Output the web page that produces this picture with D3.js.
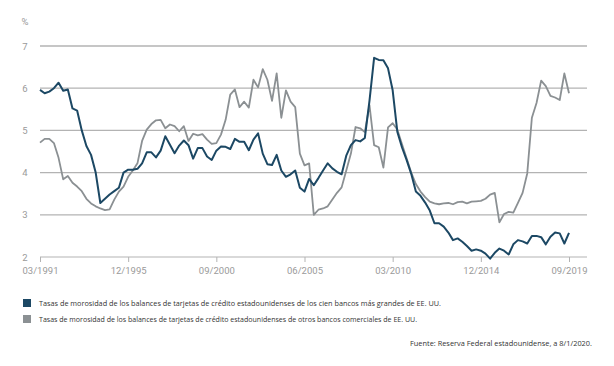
<!DOCTYPE html>
<html>
<head>
<meta charset="utf-8">
<script src="https://d3js.org/d3.v7.min.js"></script>
<style>
  body { margin: 0; background: white; }
  .tick-label { font-family: Roboto, sans-serif; font-size: 9.5px; fill: #9a9a9a; }
  .legend-text { font-family: "Open Sans", sans-serif; font-size: 7.3px; fill: #333; }
</style>
</head>
<body>
<div id="chart"></div>
<script>
// quarterly values, 03/1991 .. 09/2019
var top100 = [5.96, 5.88, 5.92, 6.0, 6.13, 5.94, 5.97, 5.52, 5.47, 5.0,
  4.63, 4.42, 4.0, 3.28, 3.38, 3.48, 3.56, 3.64, 4.0, 4.07,
  4.07, 4.09, 4.22, 4.48, 4.48, 4.36, 4.52, 4.86, 4.66, 4.46,
  4.64, 4.76, 4.65, 4.33, 4.58, 4.58, 4.38, 4.3, 4.52, 4.62,
  4.61, 4.56, 4.8, 4.73, 4.73, 4.53, 4.78, 4.93, 4.45, 4.2,
  4.18, 4.42, 4.05, 3.9, 3.96, 4.05, 3.64, 3.55, 3.85, 3.7,
  3.87, 4.05, 4.22, 4.1, 4.02, 3.96, 4.4, 4.65, 4.77, 4.74,
  4.82, 5.7, 6.72, 6.67, 6.66, 6.47, 5.95, 4.97, 4.6, 4.3,
  3.97, 3.55, 3.45, 3.29, 3.1, 2.8, 2.8, 2.72, 2.58, 2.4,
  2.44, 2.36, 2.26, 2.15, 2.18, 2.15, 2.08, 1.96, 2.1, 2.2,
  2.15, 2.06, 2.3, 2.4, 2.37, 2.32, 2.5, 2.5, 2.47, 2.3,
  2.48, 2.58, 2.56, 2.32, 2.57];

var otherBanks = [4.71, 4.8, 4.8, 4.7, 4.35, 3.84, 3.92, 3.76, 3.67, 3.56,
  3.38, 3.27, 3.2, 3.15, 3.11, 3.13, 3.36, 3.55, 3.67, 3.9,
  4.05, 4.22, 4.75, 5.02, 5.15, 5.24, 5.25, 5.05, 5.14, 5.1,
  4.98, 5.1, 4.75, 4.92, 4.88, 4.91, 4.78, 4.68, 4.7, 4.9,
  5.25, 5.85, 5.97, 5.55, 5.68, 5.54, 6.2, 6.02, 6.45, 6.2,
  5.7, 6.35, 5.3, 5.95, 5.68, 5.55, 4.45, 4.17, 4.22, 3.0,
  3.12, 3.15, 3.2, 3.36, 3.52, 3.65, 4.05, 4.45, 5.08, 5.05,
  4.96, 5.6, 4.65, 4.6, 4.12, 5.07, 5.17, 5.02, 4.68, 4.34,
  4.0, 3.73, 3.55, 3.42, 3.31, 3.27, 3.25, 3.27, 3.28, 3.25,
  3.3, 3.31, 3.27, 3.31, 3.32, 3.33, 3.38, 3.48, 3.52, 2.82,
  3.02, 3.07, 3.05, 3.28, 3.52, 3.98, 5.3, 5.65, 6.18, 6.05,
  5.82, 5.78, 5.72, 6.35, 5.88];

var xTickLabels = ["03/1991", "12/1995", "09/2000", "06/2005", "03/2010", "12/2014", "09/2019"];
var yTicks = [2, 3, 4, 5, 6, 7];
var legendLabels = [
  "Tasas de morosidad de los balances de tarjetas de crédito estadounidenses de los cien bancos más grandes de EE. UU.",
  "Tasas de morosidad de los balances de tarjetas de crédito estadounidenses de otros bancos comerciales de EE. UU."
];
var sourceText = "Fuente: Reserva Federal estadounidense, a 8/1/2020.";

var quarters = [];
for (var yr = 1991; yr <= 2019; yr++) {
  ["03", "06", "09", "12"].forEach(function(m) {
    if (quarters.length < top100.length) quarters.push(m + "/" + yr);
  });
}

var width = 614, height = 366;
var darkColor = "#1c4864", greyColor = "#8b9093";

var svg = d3.select("#chart").append("svg")
  .attr("width", width)
  .attr("height", height);

var x = d3.scalePoint().domain(quarters).range([40, 569]);
var y = d3.scaleLinear().domain([2, 7]).range([257, 46]);

// grid
svg.append("g").selectAll("line")
  .data(yTicks.filter(function(d) { return d > 2; }))
  .enter().append("line")
  .attr("x1", 40).attr("x2", 587)
  .attr("y1", function(d) { return y(d); })
  .attr("y2", function(d) { return y(d); })
  .style("stroke", "#b3b3b3")
  .style("stroke-width", 1.3);

// y labels
svg.append("g").selectAll("text")
  .data(yTicks)
  .enter().append("text")
  .attr("class", "tick-label")
  .attr("x", 25)
  .attr("y", function(d) { return y(d) + 3.5; })
  .attr("text-anchor", "middle")
  .text(function(d) { return d; });

svg.append("text")
  .attr("class", "tick-label")
  .attr("x", 25).attr("y", 25)
  .attr("text-anchor", "middle")
  .text("%");

// x axis
var xAxis = d3.axisBottom(x).tickValues(xTickLabels).tickSize(5).tickPadding(5);
var gx = svg.append("g")
  .attr("transform", "translate(0," + y(2) + ")")
  .call(xAxis);
gx.select(".domain").attr("d", "M40,0H587").style("stroke", "#b3b3b3");
gx.selectAll(".tick line").style("stroke", "#b3b3b3");
gx.selectAll(".tick text").attr("class", "tick-label").style("font-size", null).style("font-family", null);
gx.attr("font-size", null).attr("font-family", null);

// lines
var line = d3.line()
  .x(function(d, i) { return x(quarters[i]); })
  .y(function(d) { return y(d); });

svg.append("path")
  .datum(otherBanks)
  .attr("d", line)
  .style("fill", "none")
  .style("stroke", greyColor)
  .style("stroke-width", 1.8)
  .style("stroke-linejoin", "round");

svg.append("path")
  .datum(top100)
  .attr("d", line)
  .style("fill", "none")
  .style("stroke", darkColor)
  .style("stroke-width", 2)
  .style("stroke-linejoin", "round");

// legend
var legend = svg.append("g").selectAll("g")
  .data(legendLabels)
  .enter().append("g")
  .attr("transform", function(d, i) { return "translate(23," + (299 + i * 16) + ")"; });

legend.append("rect")
  .attr("width", 8).attr("height", 8)
  .style("fill", function(d, i) { return i === 0 ? darkColor : greyColor; });

legend.append("text")
  .attr("class", "legend-text")
  .attr("x", 16).attr("y", 6.8)
  .attr("textLength", function(d, i) { return i === 0 ? 402 : 378; })
  .attr("lengthAdjust", "spacingAndGlyphs")
  .text(function(d) { return d; });

svg.append("text")
  .attr("class", "legend-text")
  .attr("x", 592).attr("y", 346)
  .attr("text-anchor", "end")
  .attr("textLength", 182)
  .attr("lengthAdjust", "spacingAndGlyphs")
  .text(sourceText);
</script>
</body>
</html>
